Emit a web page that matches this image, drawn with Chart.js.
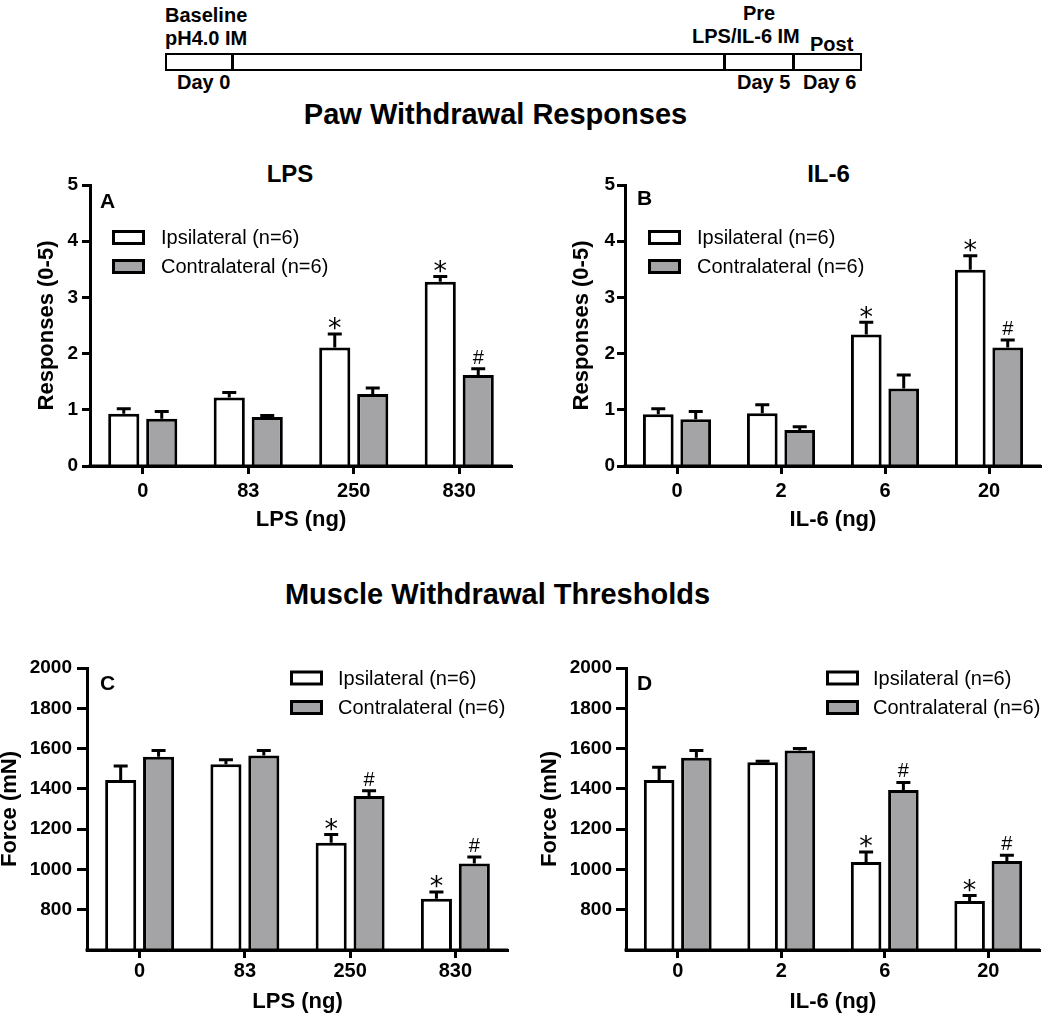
<!DOCTYPE html>
<html><head><meta charset="utf-8">
<script src="https://cdn.jsdelivr.net/npm/chart.js@4.4.0/dist/chart.umd.min.js"></script>
<style>
html,body{margin:0;padding:0;background:#fff;}
#page{position:relative;width:1050px;height:1015px;overflow:hidden;font-family:"Liberation Sans",Arial,sans-serif;color:#000;background:#fff;}
.t{position:absolute;white-space:nowrap;line-height:1;font-weight:bold;}
.ctr{transform:translateX(-50%);}
.cv{position:absolute;}
</style></head><body>
<div id="page">
  <div style="position:absolute;left:165px;top:53px;width:697px;height:18px;box-sizing:border-box;border:2px solid #000;"></div>
  <div style="position:absolute;left:231px;top:53px;width:3px;height:18px;background:#000;"></div>
  <div style="position:absolute;left:723px;top:53px;width:3px;height:18px;background:#000;"></div>
  <div style="position:absolute;left:792px;top:53px;width:3px;height:18px;background:#000;"></div>
  <div class="t" style="left:165px;top:5px;font-size:20px;">Baseline</div>
  <div class="t" style="left:165px;top:28px;font-size:20px;">pH4.0 IM</div>
  <div class="t" style="left:177px;top:72px;font-size:20px;">Day 0</div>
  <div class="t" style="left:743px;top:3px;font-size:20px;">Pre</div>
  <div class="t" style="left:692px;top:26px;font-size:20px;">LPS/IL-6 IM</div>
  <div class="t" style="left:810px;top:34px;font-size:20px;">Post</div>
  <div class="t" style="left:737px;top:72px;font-size:20px;">Day 5</div>
  <div class="t" style="left:803px;top:72px;font-size:20px;">Day 6</div>

  <div class="t ctr" style="left:495.5px;top:100px;font-size:29px;">Paw Withdrawal Responses</div>
  <div class="t ctr" style="left:290px;top:162px;font-size:24px;">LPS</div>
  <div class="t ctr" style="left:828.5px;top:162px;font-size:24px;">IL-6</div>
  <div class="t ctr" style="left:497.5px;top:580px;font-size:29px;">Muscle Withdrawal Thresholds</div>

  <canvas id="cA" class="cv" width="520" height="375" style="left:0px;top:165px;width:520px;height:375px;"></canvas>
  <canvas id="cB" class="cv" width="530" height="375" style="left:520px;top:165px;width:530px;height:375px;"></canvas>
  <canvas id="cC" class="cv" width="520" height="375" style="left:0px;top:640px;width:520px;height:375px;"></canvas>
  <canvas id="cD" class="cv" width="530" height="375" style="left:520px;top:640px;width:530px;height:375px;"></canvas>
</div>
<script>
// ---------- data ----------
const lpsDoses = ['0', '83', '250', '830'];
const il6Doses = ['0', '2', '6', '20'];
const seriesNames = ['Ipsilateral (n=6)', 'Contralateral (n=6)'];

const pawTicks = [0, 1, 2, 3, 4, 5];
const pawTickLabels = ['0', '1', '2', '3', '4', '5'];
const forceTicks = [600, 800, 1000, 1200, 1400, 1600, 1800, 2000];
const forceTickLabels = ['', '800', '1000', '1200', '1400', '1600', '1800', '2000'];

// A: paw responses, LPS
const pawLpsIpsi = [0.93, 1.22, 2.11, 3.28];
const pawLpsIpsiSem = [0.09, 0.09, 0.24, 0.09];
const pawLpsContra = [0.84, 0.87, 1.28, 1.62];
const pawLpsContraSem = [0.13, 0.03, 0.11, 0.11];
const pawLpsIpsiMarks = ['', '', '*', '*'];
const pawLpsContraMarks = ['', '', '', '#'];

// B: paw responses, IL-6
const pawIl6Ipsi = [0.92, 0.94, 2.34, 3.49];
const pawIl6IpsiSem = [0.10, 0.15, 0.22, 0.25];
const pawIl6Contra = [0.83, 0.64, 1.38, 2.11];
const pawIl6ContraSem = [0.14, 0.06, 0.24, 0.13];
const pawIl6IpsiMarks = ['', '', '*', '*'];
const pawIl6ContraMarks = ['', '', '', '#'];

// C: muscle force, LPS
const forceLpsIpsi = [1444, 1522, 1132, 855];
const forceLpsIpsiSem = [70, 22, 41, 33];
const forceLpsContra = [1560, 1565, 1364, 1029];
const forceLpsContraSem = [30, 25, 27, 33];
const forceLpsIpsiMarks = ['', '', '*', '*'];
const forceLpsContraMarks = ['', '', '#', '#'];

// D: muscle force, IL-6
const forceIl6Ipsi = [1444, 1532, 1037, 843];
const forceIl6IpsiSem = [63, 5, 50, 28];
const forceIl6Contra = [1555, 1590, 1394, 1042];
const forceIl6ContraSem = [35, 10, 38, 29];
const forceIl6IpsiMarks = ['', '', '*', '*'];
const forceIl6ContraMarks = ['', '', '#', '#'];

// ---------- drawing ----------
const FAM = '"Liberation Sans", Arial, sans-serif';
const GRAY = '#a4a4a7';

const overlay = {
  id: 'overlay',
  afterDatasetsDraw(chart, args, o) {
    const ctx = chart.ctx, ca = chart.chartArea, y = chart.scales.y;
    ctx.save();
    ctx.strokeStyle = '#000';
    ctx.lineWidth = 3;
    ctx.beginPath();
    ctx.moveTo(ca.left - 1.5, ca.bottom);
    ctx.lineTo(ca.right, ca.bottom);
    ctx.stroke();
    chart.data.datasets.forEach((ds, i) => {
      const meta = chart.getDatasetMeta(i);
      meta.data.forEach((bar, j) => {
        const yTop = y.getPixelForValue(ds.data[j]);
        const yCap = y.getPixelForValue(ds.data[j] + ds.sem[j]);
        ctx.strokeStyle = '#000';
        ctx.lineWidth = 3;
        ctx.beginPath();
        ctx.moveTo(bar.x, yTop);
        ctx.lineTo(bar.x, yCap);
        ctx.moveTo(bar.x - 7, yCap);
        ctx.lineTo(bar.x + 7, yCap);
        ctx.stroke();
        const m = ds.marks[j];
        ctx.fillStyle = '#000';
        ctx.textAlign = 'center';
        ctx.textBaseline = 'alphabetic';
        if (m === '*') {
          ctx.font = '27px "DejaVu Sans"';
          ctx.fillText('*', bar.x, yCap + 3.5);
        } else if (m === '#') {
          ctx.font = '20px ' + FAM;
          ctx.fillText('#', bar.x, yCap - 5);
        }
      });
    });
    ctx.restore();
  },
  afterDraw(chart, args, o) {
    const ctx = chart.ctx;
    ctx.save();
    ctx.fillStyle = '#000';
    ctx.font = 'bold 21px ' + FAM;
    ctx.textAlign = 'left';
    ctx.textBaseline = 'alphabetic';
    ctx.fillText(o.letter, o.letterX, o.letterY);
    chart.data.datasets.forEach((ds, i) => {
      const cy = o.rowY[i];
      ctx.fillStyle = ds.backgroundColor;
      ctx.fillRect(o.boxX + 1.5, cy - 6, 30, 12);
      ctx.strokeStyle = '#000';
      ctx.lineWidth = 3;
      ctx.strokeRect(o.boxX + 1.5, cy - 6, 30, 12);
      ctx.fillStyle = '#000';
      ctx.font = '20px ' + FAM;
      ctx.textBaseline = 'middle';
      ctx.fillText(ds.label, o.textX, cy + 1);
    });
    ctx.restore();
  }
};

function makeChart(id, p) {
  const ds = (label, data, sem, marks, color) => ({
    label, data, sem, marks,
    backgroundColor: color, borderColor: '#000', borderWidth: 3, borderSkipped: 'start',
    categoryPercentage: 0.72, barPercentage: 0.82
  });
  return new Chart(document.getElementById(id), {
    type: 'bar',
    data: {
      labels: p.labels,
      datasets: [
        ds(seriesNames[0], p.ipsi, p.ipsiSem, p.ipsiMarks, '#ffffff'),
        ds(seriesNames[1], p.contra, p.contraSem, p.contraMarks, GRAY)
      ]
    },
    options: {
      responsive: false, animation: false, devicePixelRatio: 1,
      layout: { padding: p.pad },
      plugins: {
        legend: { display: false }, tooltip: { enabled: false }, title: { display: false },
        overlay: p.overlay
      },
      scales: {
        x: {
          offset: true,
          grid: { display: true, drawOnChartArea: false, offset: false, tickLength: 8, tickWidth: 3, tickColor: '#000' },
          border: { display: true, color: '#000', width: 3 },
          ticks: { font: { family: FAM, size: 20, weight: 'bold' }, color: '#000', padding: p.xTickPad, maxRotation: 0, autoSkip: false },
          title: { display: true, text: p.xTitle, color: '#000', font: { family: FAM, size: 22, weight: 'bold', lineHeight: 1.2 }, padding: { top: 0, bottom: p.xTitlePad } },
          afterFit: s => { s.height = p.xH; }
        },
        y: {
          min: p.ticks[0], max: p.ticks[p.ticks.length - 1],
          afterBuildTicks: s => { s.ticks = p.ticks.map(v => ({ value: v })); },
          grid: { display: true, drawOnChartArea: false, tickLength: p.yTickLen, tickWidth: 3,
                  tickColor: c => (c.tick && p.tickLabels[p.ticks.indexOf(c.tick.value)] === '') ? 'rgba(0,0,0,0)' : '#000' },
          border: { display: true, color: '#000', width: 3 },
          ticks: { font: { family: FAM, size: 19, weight: 'bold' }, color: '#000', padding: p.yTickPad,
                   callback: (v) => p.tickLabels[p.ticks.indexOf(v)] },
          title: { display: true, text: p.yTitle, color: '#000', font: { family: FAM, size: 22, weight: 'bold', lineHeight: p.yTitleLH }, padding: { top: p.yTitlePad, bottom: 0 } },
          afterFit: s => { s.width = p.yW; }
        }
      }
    },
    plugins: [overlay]
  });
}

makeChart('cA', {
  labels: lpsDoses, ipsi: pawLpsIpsi, ipsiSem: pawLpsIpsiSem, ipsiMarks: pawLpsIpsiMarks,
  contra: pawLpsContra, contraSem: pawLpsContraSem, contraMarks: pawLpsContraMarks,
  ticks: pawTicks, tickLabels: pawTickLabels,
  pad: { left: 0, top: 20, right: 8, bottom: 0 }, yW: 90, xH: 74,
  xTickPad: 5, xTitle: 'LPS (ng)', xTitlePad: 7,
  yTitle: 'Responses (0-5)', yTitlePad: 34, yTitleLH: 1.2, yTickLen: 8, yTickPad: 4,
  overlay: { letter: 'A', letterX: 100, letterY: 43, boxX: 112, textX: 161, rowY: [72.5, 101.5] }
});
makeChart('cB', {
  labels: il6Doses, ipsi: pawIl6Ipsi, ipsiSem: pawIl6IpsiSem, ipsiMarks: pawIl6IpsiMarks,
  contra: pawIl6Contra, contraSem: pawIl6ContraSem, contraMarks: pawIl6ContraMarks,
  ticks: pawTicks, tickLabels: pawTickLabels,
  pad: { left: 0, top: 20, right: 9, bottom: 0 }, yW: 105, xH: 74,
  xTickPad: 5, xTitle: 'IL-6 (ng)', xTitlePad: 7,
  yTitle: 'Responses (0-5)', yTitlePad: 49, yTitleLH: 1.2, yTickLen: 8, yTickPad: 2,
  overlay: { letter: 'B', letterX: 117, letterY: 40, boxX: 128, textX: 177, rowY: [72.5, 101.5] }
});
makeChart('cC', {
  labels: lpsDoses, ipsi: forceLpsIpsi, ipsiSem: forceLpsIpsiSem, ipsiMarks: forceLpsIpsiMarks,
  contra: forceLpsContra, contraSem: forceLpsContraSem, contraMarks: forceLpsContraMarks,
  ticks: forceTicks, tickLabels: forceTickLabels,
  pad: { left: 0, top: 28, right: 12, bottom: 0 }, yW: 87, xH: 65,
  xTickPad: 1, xTitle: 'LPS (ng)', xTitlePad: 0,
  yTitle: 'Force (mN)', yTitlePad: 0, yTitleLH: 0.9, yTickLen: 10, yTickPad: 5,
  overlay: { letter: 'C', letterX: 100, letterY: 50, boxX: 290, textX: 338, rowY: [38, 67.5] }
});
makeChart('cD', {
  labels: il6Doses, ipsi: forceIl6Ipsi, ipsiSem: forceIl6IpsiSem, ipsiMarks: forceIl6IpsiMarks,
  contra: forceIl6Contra, contraSem: forceIl6ContraSem, contraMarks: forceIl6ContraMarks,
  ticks: forceTicks, tickLabels: forceTickLabels,
  pad: { left: 0, top: 28, right: 10, bottom: 0 }, yW: 106, xH: 65,
  xTickPad: 1, xTitle: 'IL-6 (ng)', xTitlePad: 0,
  yTitle: 'Force (mN)', yTitlePad: 20, yTitleLH: 0.9, yTickLen: 10, yTickPad: 4,
  overlay: { letter: 'D', letterX: 117, letterY: 50, boxX: 306, textX: 353, rowY: [38, 67.5] }
});
</script>
</body></html>
